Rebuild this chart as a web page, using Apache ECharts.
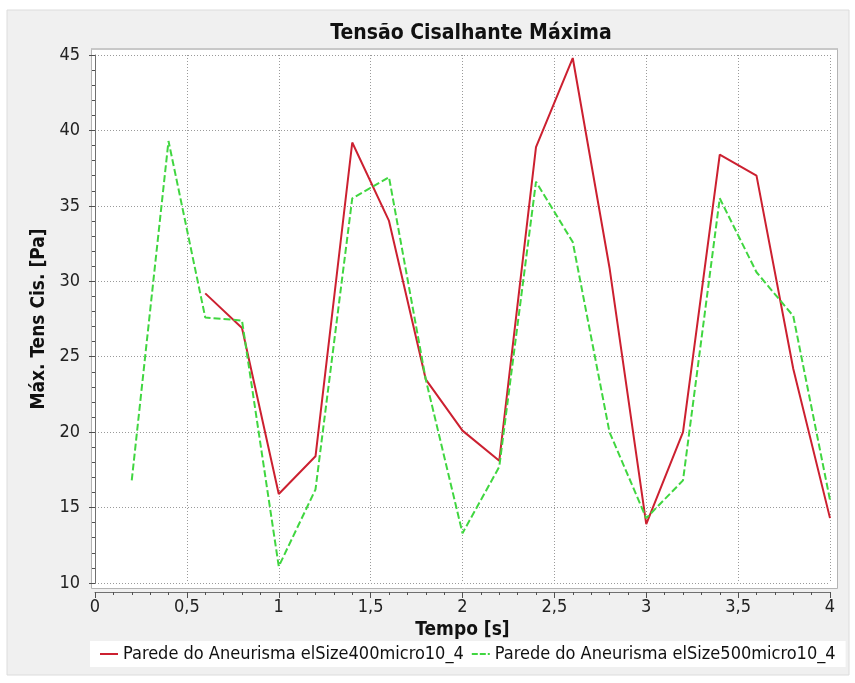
<!DOCTYPE html>
<html>
<head>
<meta charset="utf-8">
<script src="https://cdn.jsdelivr.net/npm/echarts@6/dist/echarts.min.js"></script>
<style>
  html, body { margin: 0; padding: 0; background: #ffffff; }
  #chart { width: 855px; height: 683px; }
</style>
</head>
<body>
<div id="chart"></div>
<script>
// Time samples [s]
const tempo400 = [0.6, 0.8, 1.0, 1.2, 1.4, 1.6, 1.8, 2.0, 2.2, 2.4, 2.6, 2.8, 3.0, 3.2, 3.4, 3.6, 3.8, 4.0];
const tempo500 = [0.2, 0.4, 0.6, 0.8, 1.0, 1.2, 1.4, 1.6, 1.8, 2.0, 2.2, 2.4, 2.6, 2.8, 3.0, 3.2, 3.4, 3.6, 3.8, 4.0];

// Maximum wall shear stress [Pa]
const tensao400 = [29.2, 26.9, 15.9, 18.4, 39.2, 34.0, 23.5, 20.1, 18.1, 38.9, 44.8, 30.9, 13.9, 20.0, 38.4, 37.0, 24.2, 14.3];
const tensao500 = [16.8, 39.3, 27.6, 27.4, 11.1, 16.2, 35.5, 36.9, 23.5, 13.3, 17.7, 36.6, 32.6, 20.0, 14.3, 16.8, 35.5, 30.6, 27.7, 15.5];

const nome400 = 'Parede do Aneurisma elSize400micro10_4';
const nome500 = 'Parede do Aneurisma elSize500micro10_4';

const xTicks = { min: 0, max: 4, interval: 0.5 };
const yTicks = { min: 10, max: 45, interval: 5 };

const pairs = (xs, ys) => xs.map((x, i) => [x, ys[i]]);
const fmt = v => String(v).replace('.', ',');

const FONT = '"DejaVu Sans Condensed", "DejaVu Sans", sans-serif';
const RED = '#cc2030';
const GREEN = '#40d640';

// legend keys: a solid stroke and a dashed stroke
const ICON_SOLID = 'path://M0,0h18v2h-18z';
const ICON_DASH = 'path://M0,0h6v2h-6z M8,0h6v2h-6z M16,0h2v2h-2z';

const chart = echarts.init(document.getElementById('chart'), null, { renderer: 'canvas' });

chart.setOption({
  backgroundColor: '#ffffff',
  animation: false,
  textStyle: { fontFamily: FONT },
  title: {
    text: 'Tensão Cisalhante Máxima',
    left: 466,
    textAlign: 'center',
    top: 18,
    textStyle: { fontFamily: FONT, fontSize: 21, fontWeight: 'bold', color: '#111' }
  },
  graphic: [
    { type: 'rect', z: -20, shape: { x: 7, y: 10, width: 842, height: 665 },
      style: { fill: '#f0f0f0', stroke: '#dcdcdc', lineWidth: 1 } },
    { type: 'rect', z: -10, shape: { x: 91.5, y: 48.5, width: 746, height: 540 },
      style: { fill: '#ffffff', stroke: '#b4b4b4', lineWidth: 1 } },
    { type: 'rect', z: -9, shape: { x: 91.5, y: 48, width: 746, height: 2 },
      style: { fill: '#c8c8c8' } }
  ],
  legend: {
    left: 90,
    top: 641,
    padding: [4, 10, 4, 10],
    backgroundColor: '#ffffff',
    itemWidth: 18,
    itemHeight: 2,
    itemGap: 8,
    textStyle: { fontFamily: FONT, fontSize: 18, color: '#111' },
    data: [
      { name: nome400, icon: ICON_SOLID, itemStyle: { color: RED } },
      { name: nome500, icon: ICON_DASH, itemStyle: { color: GREEN } }
    ]
  },
  grid: { left: 95, right: 25, top: 55, bottom: 100, containLabel: false },
  xAxis: {
    type: 'value',
    min: xTicks.min, max: xTicks.max, interval: xTicks.interval,
    offset: 9,
    name: 'Tempo [s]',
    nameLocation: 'middle',
    nameGap: 29,
    nameTextStyle: { fontFamily: FONT, fontSize: 19, fontWeight: 'bold', color: '#111' },
    axisLine: { show: true, lineStyle: { color: '#707070', width: 1 } },
    axisTick: { show: true, length: 6, lineStyle: { color: '#505050' } },
    minorTick: { show: true, splitNumber: 5, length: 3, lineStyle: { color: '#505050' } },
    axisLabel: { formatter: fmt, fontFamily: FONT, fontSize: 18, color: '#222', margin: 6 },
    splitLine: { show: true, lineStyle: { color: '#9a9a9a', type: [1, 2], width: 1 } }
  },
  yAxis: {
    type: 'value',
    min: yTicks.min, max: yTicks.max, interval: yTicks.interval,
    offset: 9,
    name: 'Máx. Tens Cis. [Pa]',
    nameLocation: 'middle',
    nameGap: 28,
    nameTextStyle: { fontFamily: FONT, fontSize: 19, fontWeight: 'bold', color: '#111' },
    axisLine: { show: true, lineStyle: { color: '#707070', width: 1 } },
    axisTick: { show: true, length: 6, lineStyle: { color: '#505050' } },
    minorTick: { show: true, splitNumber: 5, length: 3, lineStyle: { color: '#505050' } },
    axisLabel: { fontFamily: FONT, fontSize: 18, color: '#222', margin: 6 },
    splitLine: { show: true, lineStyle: { color: '#9a9a9a', type: [1, 2], width: 1 } }
  },
  series: [
    {
      name: nome400,
      type: 'line',
      data: pairs(tempo400, tensao400),
      symbol: 'none',
      z: 3,
      lineStyle: { color: RED, width: 2 },
      itemStyle: { color: RED }
    },
    {
      name: nome500,
      type: 'line',
      data: pairs(tempo500, tensao500),
      symbol: 'none',
      z: 4,
      lineStyle: { color: GREEN, width: 2, type: [7, 3] },
      itemStyle: { color: GREEN }
    }
  ]
});
</script>
</body>
</html>
